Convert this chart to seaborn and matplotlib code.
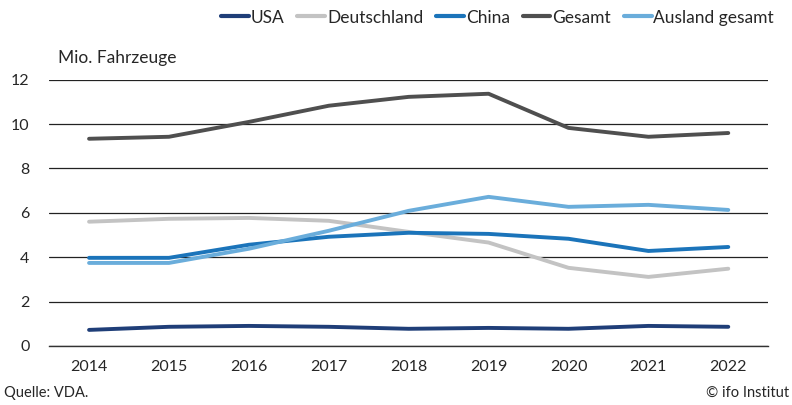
import matplotlib.pyplot as plt
import seaborn as sns
import pandas as pd

# Data (Mio. Fahrzeuge)
years = [2014, 2015, 2016, 2017, 2018, 2019, 2020, 2021, 2022]
usa = [0.72, 0.86, 0.90, 0.86, 0.77, 0.81, 0.77, 0.90, 0.86]
deutschland = [5.60, 5.73, 5.77, 5.64, 5.14, 4.66, 3.52, 3.11, 3.48]
china = [3.97, 3.97, 4.56, 4.92, 5.10, 5.05, 4.83, 4.28, 4.46]
gesamt = [9.34, 9.43, 10.10, 10.83, 11.23, 11.37, 9.83, 9.43, 9.60]
ausland = [3.74, 3.74, 4.38, 5.19, 6.09, 6.72, 6.27, 6.36, 6.13]

series_names = ['USA', 'Deutschland', 'China', 'Gesamt', 'Ausland gesamt']
colors = ['#1f3e78', '#c3c3c3', '#1b74ba', '#4f4f4f', '#6aaddb']

df = pd.DataFrame({'Jahr': years, 'USA': usa, 'Deutschland': deutschland,
                   'China': china, 'Gesamt': gesamt,
                   'Ausland gesamt': ausland})
df_long = df.melt(id_vars='Jahr', var_name='Serie', value_name='Wert')

sns.set_style("white")
plt.rcParams['font.family'] = ['Lato', 'DejaVu Sans']

fig = plt.figure(figsize=(7.92, 4.05), dpi=100)
ax = fig.add_axes([0.062, 0.146, 0.908, 0.657])

sns.lineplot(data=df_long, x='Jahr', y='Wert', hue='Serie',
             hue_order=series_names, palette=colors, linewidth=2.8,
             ax=ax, legend=False)

ax.set_xlim(2013.5, 2022.5)
ax.set_ylim(0, 12)
ax.set_yticks([0, 2, 4, 6, 8, 10, 12])
ax.set_xticks(years)
ax.set_xticks([y - 0.5 for y in years] + [2022.5], minor=True)
ax.tick_params(axis='x', which='major', length=0, pad=10, labelsize=11.5)
ax.tick_params(axis='x', which='minor', length=6, width=1, color='#333333',
               direction='out')
ax.tick_params(axis='y', length=0, pad=14, labelsize=11.5)
ax.grid(axis='y', color='#222222', linewidth=0.9)
ax.set_axisbelow(True)
for side in ['top', 'right', 'left']:
    ax.spines[side].set_visible(False)
ax.spines['bottom'].set_color('#333333')
ax.spines['bottom'].set_linewidth(1)
ax.set_xlabel('')
ax.set_ylabel('')

ax.text(0.073, 0.857, 'Mio. Fahrzeuge', transform=fig.transFigure,
        fontsize=12.5, va='center', ha='left')

handles = [plt.Line2D([], [], color=c, linewidth=3) for c in colors]
fig.legend(handles, series_names, loc='upper right',
           bbox_to_anchor=(0.997, 1.015), ncol=5, frameon=False,
           fontsize=12.5, handlelength=1.6, handletextpad=0.1,
           columnspacing=0.75)

fig.text(0.005, 0.012, 'Quelle: VDA.', fontsize=10.5, ha='left', va='bottom')
fig.text(0.997, 0.012, '© ifo Institut', fontsize=10.5, ha='right',
         va='bottom')

fig.savefig('out.png', dpi=100)
